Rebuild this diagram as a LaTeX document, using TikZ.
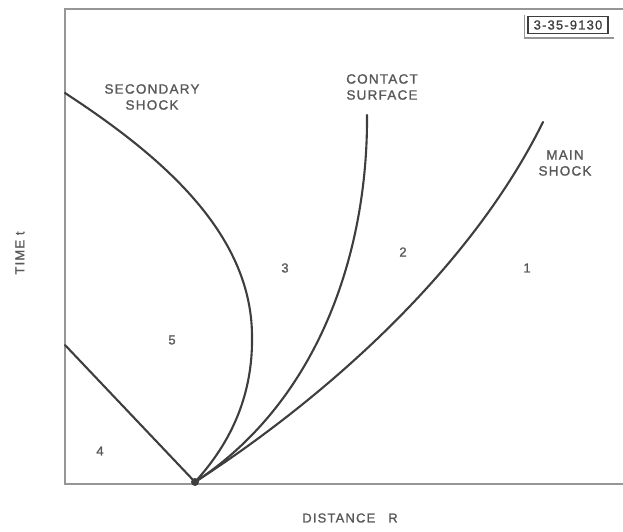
\documentclass[tikz,border=0pt]{standalone}
\usepackage{fontspec}
\setsansfont{Liberation Sans}[LetterSpace=9, FakeBold=1.2]
\usetikzlibrary{calc}

\definecolor{inkdark}{RGB}{62,62,62}
\definecolor{inkframe}{RGB}{150,150,150}
\definecolor{inktext}{RGB}{88,88,88}

\tikzset{
  shockline/.style={line width=2.1pt, draw=inkdark, line cap=round, line join=round},
  frameline/.style={line width=1.8pt, draw=inkframe},
  lbl/.style={font=\sffamily\fontsize{13.5}{16}\selectfont, text=inktext, align=center, inner sep=0pt},
  region/.style={font=\sffamily\fontsize{13}{15}\selectfont, text=inktext, inner sep=0pt}
}

\begin{document}
\begin{tikzpicture}[x=1pt, y=-1pt]
  \useasboundingbox (0,0) rectangle (623,532);

  % ── Frame (open at the right) ─────────────────────────────────────
  \coordinate (TL) at (65,  9);
  \coordinate (BL) at (65,  484);
  \coordinate (TR) at (623, 9);
  \coordinate (BR) at (623, 484);
  \draw[frameline] (TR) -- (TL) -- (BL) -- (BR);

  % ── Origin of the wave pattern ───────────────────────────────────
  \coordinate (O) at (195, 482);
  \coordinate (S) at (65,  93);   % secondary shock top
  \coordinate (V) at (252, 335);  % secondary shock turning point
  \coordinate (C) at (367, 115);  % contact surface top
  \coordinate (M) at (543, 122);  % main shock top
  \coordinate (W) at (65,  345);  % reflected wave start

  % ── Secondary shock, contact surface, main shock ─────────────────
  \draw[shockline] (S) .. controls (160,155) and (251,232) .. (V)
                       .. controls (253,385) and (238,435) .. (O);
  \draw[shockline] (O) .. controls (320,400) and (368,250) .. (C);
  \draw[shockline] (O) .. controls (325,398) and (470,270) .. (M);
  \draw[shockline] (W) -- (O);
  \fill[inkdark] (O) circle (4);

  % ── Curve labels ─────────────────────────────────────────────────
  \node[lbl] (secshock) at (152, 97)  {SECONDARY\\SHOCK};
  \node[lbl] (contact)  at (382, 87)  {CONTACT\\SURFACE};
  \node[lbl] (mainshk)  at (565, 163) {MAIN\\SHOCK};

  % ── Regions ──────────────────────────────────────────────────────
  \node[region] (r1) at (527, 268) {1};
  \node[region] (r2) at (403, 252) {2};
  \node[region] (r3) at (285, 268) {3};
  \node[region] (r4) at (100, 451) {4};
  \node[region] (r5) at (172, 340) {5};

  % ── Axes ─────────────────────────────────────────────────────────
  \node[region, rotate=90] (tlabel) at (20, 253) {TIME t};
  \node[region] (rlabel) at (350, 518) {DISTANCE\quad R};

  % ── Figure number ────────────────────────────────────────────────
  \node[draw=inkdark, line width=1.3pt, minimum width=80, minimum height=17, inner sep=0pt,
        font=\sffamily\fontsize{13}{14}\selectfont, text=inkdark] (fignum) at (568, 25) {3-35-9130};
  \draw[inkframe, line width=1.3pt] ($(fignum.north west)+(-3,-1)$) |- ($(fignum.south east)+(5,4)$);
\end{tikzpicture}
\end{document}
